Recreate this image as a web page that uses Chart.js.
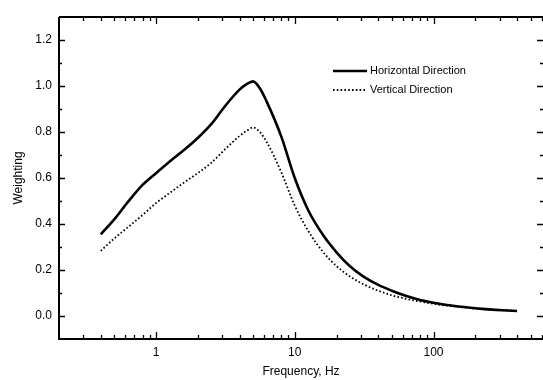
<!DOCTYPE html>
<html>
<head>
<meta charset="utf-8">
<script src="https://cdn.jsdelivr.net/npm/chart.js@4/dist/chart.umd.min.js"></script>
<style>
  html, body { margin: 0; padding: 0; background: #fff; }
  #wrap { width: 543px; height: 380px; }
</style>
</head>
<body>
<div id="wrap"><canvas id="chart"></canvas></div>
<script>
// frequency, Hz
const freqs = [0.4, 0.5, 0.63, 0.8, 1, 1.25, 1.6, 2, 2.5, 3.15, 4, 4.5, 5, 5.6, 6.3, 8, 10, 12.5, 16, 20, 25, 31.5, 40, 50, 63, 80, 100, 125, 160, 200, 250, 315, 400];
const horizontal = [0.355, 0.42, 0.497, 0.57, 0.621, 0.671, 0.723, 0.774, 0.834, 0.913, 0.984, 1.008, 1.02, 0.99, 0.93, 0.78, 0.60, 0.46, 0.352, 0.277, 0.216, 0.17, 0.135, 0.11, 0.088, 0.07, 0.058, 0.048, 0.04, 0.034, 0.029, 0.025, 0.022];
const vertical = [0.283, 0.337, 0.387, 0.439, 0.491, 0.534, 0.581, 0.621, 0.666, 0.725, 0.783, 0.805, 0.82, 0.80, 0.755, 0.625, 0.48, 0.37, 0.278, 0.217, 0.172, 0.137, 0.11, 0.09, 0.075, 0.063, 0.053, 0.045, 0.038, 0.032, 0.028, 0.025, 0.022];
const xTickLabels = [1, 10, 100];
const yTickLabels = [0.0, 0.2, 0.4, 0.6, 0.8, 1.0, 1.2];

const FONT = 'Liberation Sans, Arial, Helvetica, sans-serif';

function pts(ys) {
  return freqs.map((f, i) => ({ x: f, y: ys[i] }));
}

// frame, inward ticks and in-plot legend
const framePlugin = {
  id: 'frame',
  afterDraw(chart) {
    const c = chart.ctx;
    const a = chart.chartArea;
    const xs = chart.scales.x, ys = chart.scales.y;
    c.save();
    c.strokeStyle = '#000';
    c.lineWidth = 2;
    c.beginPath();
    c.moveTo(a.left, a.top); c.lineTo(a.right + 2, a.top);
    c.moveTo(a.left, a.top); c.lineTo(a.left, a.bottom);
    c.lineTo(a.right + 2, a.bottom);
    c.stroke();

    c.lineWidth = 1.3;
    c.beginPath();
    // x ticks (bottom + top)
    for (let d = 0.1; d <= 1000; d *= 10) {
      for (let m = 1; m < 10; m++) {
        const v = d * m;
        if (v <= xs.min || v >= xs.max) continue;
        const px = Math.round(xs.getPixelForValue(v)) + 0.5;
        const len = m === 1 ? 7 : 4;
        c.moveTo(px, a.bottom); c.lineTo(px, a.bottom - len);
        c.moveTo(px, a.top); c.lineTo(px, a.top + len);
      }
    }
    // y ticks (left + right)
    for (let k = -1; k <= 13; k++) {
      const v = k / 10;
      if (v <= ys.min || v >= ys.max) continue;
      const py = Math.round(ys.getPixelForValue(v)) + 0.5;
      const len = k % 2 === 0 ? 6 : 3;
      c.moveTo(a.left, py); c.lineTo(a.left + len, py);
      c.moveTo(a.right, py); c.lineTo(a.right - len, py);
    }
    c.stroke();

    // legend
    const lx = 333, ly = 71, gap = 19;
    c.font = '11px ' + FONT;
    c.textBaseline = 'middle';
    c.fillStyle = '#000';
    chart.data.datasets.forEach((ds, i) => {
      const y = ly + i * gap;
      c.lineWidth = ds.borderWidth;
      c.setLineDash(ds.borderDash || []);
      c.beginPath();
      c.moveTo(lx, y); c.lineTo(lx + 34, y);
      c.stroke();
      c.setLineDash([]);
      c.fillText(ds.label, lx + 37, y);
    });
    c.restore();
  }
};

new Chart(document.getElementById('chart'), {
  type: 'line',
  data: {
    datasets: [{
      label: 'Horizontal Direction',
      data: pts(horizontal),
      borderColor: '#000',
      borderWidth: 2.6,
      pointRadius: 0,
      cubicInterpolationMode: 'monotone'
    }, {
      label: 'Vertical Direction',
      data: pts(vertical),
      borderColor: '#000',
      borderWidth: 1.8,
      borderDash: [1.6, 2.2],
      pointRadius: 0,
      cubicInterpolationMode: 'monotone'
    }]
  },
  options: {
    responsive: true,
    maintainAspectRatio: false,
    animation: false,
    layout: { padding: { top: 17, right: 0, left: 0, bottom: 0 } },
    plugins: { legend: { display: false }, tooltip: { enabled: false } },
    scales: {
      x: {
        type: 'logarithmic',
        min: 0.2,
        max: 615,
        grid: { display: false, drawTicks: false },
        border: { display: false },
        afterBuildTicks: s => { s.ticks = xTickLabels.map(v => ({ value: v })); },
        afterFit: s => { s.height = 41; },
        ticks: {
          color: '#000',
          padding: 6,
          maxRotation: 0,
          font: { family: FONT, size: 12 },
          callback: v => String(v)
        },
        title: {
          display: true,
          text: 'Frequency, Hz',
          color: '#000',
          padding: { top: 0, bottom: 1 },
          font: { family: FONT, size: 12 }
        }
      },
      y: {
        min: -0.1,
        max: 1.3,
        grid: { display: false, drawTicks: false },
        border: { display: false },
        afterBuildTicks: s => { s.ticks = yTickLabels.map(v => ({ value: v })); },
        afterFit: s => { s.width = 59; },
        ticks: {
          color: '#000',
          padding: 7,
          font: { family: FONT, size: 12 },
          callback: v => Number(v).toFixed(1)
        },
        title: {
          display: true,
          text: 'Weighting',
          color: '#000',
          padding: { top: 11, bottom: 0 },
          font: { family: FONT, size: 12 }
        }
      }
    }
  },
  plugins: [framePlugin]
});
</script>
</body>
</html>
